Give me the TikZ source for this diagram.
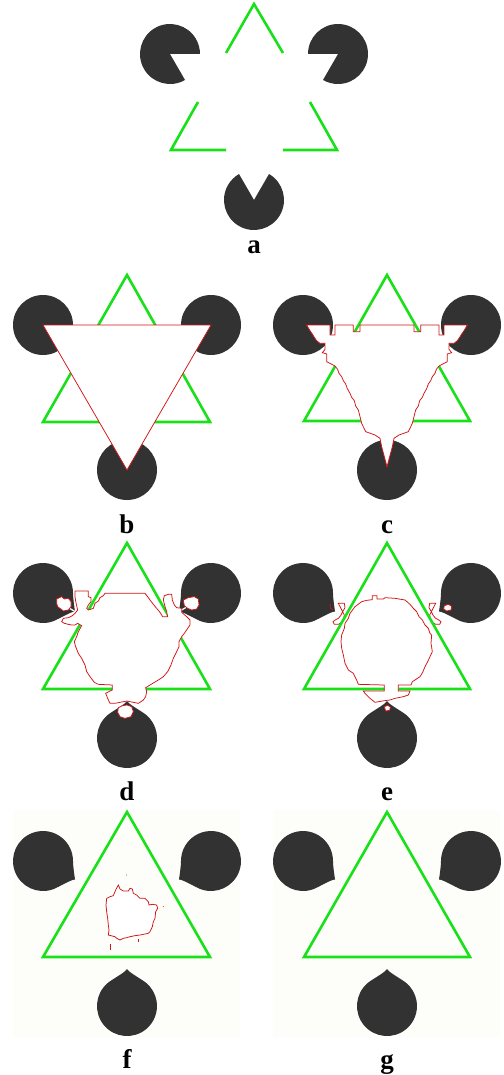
\documentclass[tikz,border=0pt]{standalone}
\usepackage{fontspec}
\setmainfont{Liberation Serif}
\definecolor{pac}{RGB}{50,50,50}
\definecolor{grn}{RGB}{25,225,25}
\definecolor{rd}{RGB}{210,20,20}
\definecolor{paper}{RGB}{253,253,249}
\tikzset{
  tri/.style={draw=grn,line width=2.6pt,line join=miter},
  seg/.style={draw=grn,line width=2.6pt,line join=miter},
  cont/.style={draw=rd,fill=white,line width=0.75pt},
  wire/.style={draw=rd,line width=0.75pt},
  slit/.style={draw=white,line width=1.3pt},
  lab/.style={font=\fontsize{27}{27}\selectfont\bfseries,anchor=base,inner sep=0pt},
}
% pacman with 60 degree mouth: x, y, mouth direction (visual angle)
\newcommand\kpac[3]{\begin{scope}[shift={(#1,#2)},rotate=#3]
  \fill[pac] (0,0) -- (30:30) arc[start angle=30,end angle=330,radius=30] -- cycle;\end{scope}}
% asymmetric drop: x, y, direction, mirror (1 or -1)
\newcommand\kdrop[4]{\begin{scope}[shift={(#1,#2)},rotate=#3,yscale=#4]
  \fill[pac] (30:30) .. controls (28.5,10.7) and (34.5,3) .. (37,0) .. controls (33.5,-2) and (27.3,-13.8) .. (-40:30)
    arc[start angle=-40,end angle=-330,radius=30] -- cycle;\end{scope}}
% symmetric drop: x, y, direction
\newcommand\ksdrop[3]{\begin{scope}[shift={(#1,#2)},rotate=#3]
  \fill[pac] (40:30) .. controls (26.9,14.7) and (33,2.5) .. (37,0) .. controls (33,-2.5) and (26.9,-14.7) .. (-40:30)
    arc[start angle=-40,end angle=-320,radius=30] -- cycle;\end{scope}}
\newcommand\kslit[3]{\begin{scope}[shift={(#1,#2)},rotate=#3]
  \draw[slit] (24,0) -- (40,0);\end{scope}}
\newcommand\kcirc[2]{\fill[pac] (#1,#2) circle[radius=30];}
\begin{document}
\begin{tikzpicture}[x=1pt,y=-1pt]
\useasboundingbox (0,0) rectangle (503,1075);
\fill[white] (0,0) rectangle (503,1075);

% ---------- panel a ----------
\kpac{170}{54}{-30}
\kpac{338}{54}{210}
\kpac{254}{200}{90}
\draw[seg] (226,53) -- (254,4) -- (283,53);
\draw[seg] (198,102) -- (171,150) -- (226,150);
\draw[seg] (310,102) -- (337,150) -- (283,150);
\node[lab] (la) at (254,253) {a};

% ---------- panel b ----------
\kcirc{43}{325}\kcirc{211}{325}\kcirc{127}{470}
\draw[tri] (127,275) -- (43,422) -- (210,422) -- cycle;
\draw[cont] (43,325) -- (211,325) -- (127,470) -- cycle;
\node[lab] (lb) at (127,533) {b};

% ---------- panel c ----------
\kcirc{303}{325}\kcirc{471}{325}\kcirc{387}{470}
\draw[tri] (387,275) -- (304,421) -- (470,421) -- cycle;
\begin{scope}[shift={(295,310)},scale=1/3]
\draw[cont] (276,45) -- (195,45) -- (195,65) -- (175,65) -- (175,45) -- (120,45) -- (120,75) -- (105,75) -- (105,45) -- (35,45) -- (45,62) -- (52,72) -- (58,82) -- (65,92) -- (75,100) -- (90,100) -- (90,118) -- (82,128) -- (95,132) -- (95,155) -- (105,160) -- (120,168) -- (128,178) -- (132,190) -- (140,200) -- (145,212) -- (152,222) -- (157,236) -- (165,250) -- (170,262) -- (178,272) -- (182,288) -- (190,300) -- (195,320) -- (200,340) -- (212,365) -- (240,375) -- (255,385) -- (260,410) -- (268,440) -- (276,470) -- (284,440) -- (292,410) -- (297,385) -- (312,375) -- (340,365) -- (352,340) -- (357,320) -- (362,300) -- (370,288) -- (374,272) -- (382,262) -- (387,250) -- (395,236) -- (400,222) -- (407,212) -- (412,200) -- (420,190) -- (424,178) -- (432,168) -- (447,160) -- (457,155) -- (457,132) -- (470,128) -- (462,118) -- (462,100) -- (477,100) -- (487,92) -- (494,82) -- (500,72) -- (507,62) -- (517,45) -- (447,45) -- (447,75) -- (432,75) -- (432,45) -- (377,45) -- (377,65) -- (357,65) -- (357,45) -- cycle;
\end{scope}
\node[lab] (lc) at (387,533) {c};

% ---------- panel d ----------
\kdrop{43}{593}{-30}{-1}
\kdrop{211}{593}{210}{1}
\ksdrop{127}{738}{90}
\kslit{43}{593}{-30}
\kslit{211}{593}{210}
\draw[tri] (127,543) -- (43,689) -- (210,689) -- cycle;
\begin{scope}[shift={(35,575)},scale=1/3]
\draw[cont] (120,48) -- (160,48) -- (160,65) -- (168,68) -- (168,80) -- (160,90) -- (155,100) -- (160,105) -- (175,100) -- (180,85) -- (190,78) -- (195,68) -- (205,62) -- (210,55) -- (330,55) -- (338,65) -- (345,75) -- (355,88) -- (365,100) -- (375,112) -- (383,125) -- (398,125) -- (395,110) -- (390,95) -- (385,75) -- (388,62) -- (400,58) -- (410,58) -- (412,75) -- (418,90) -- (425,98) -- (440,100) -- (440,112) -- (455,125) -- (465,135) -- (465,150) -- (458,160) -- (448,175) -- (440,185) -- (432,200) -- (432,215) -- (425,230) -- (415,250) -- (408,270) -- (398,290) -- (385,305) -- (370,315) -- (345,330) -- (332,338) -- (335,350) -- (332,365) -- (325,375) -- (310,385) -- (295,382) -- (276,378) -- (255,382) -- (240,385) -- (225,385) -- (218,370) -- (212,355) -- (225,348) -- (232,345) -- (232,330) -- (190,328) -- (178,322) -- (165,305) -- (155,290) -- (150,270) -- (140,250) -- (130,235) -- (122,215) -- (118,200) -- (125,185) -- (130,170) -- (140,152) -- (128,145) -- (120,150) -- (110,150) -- (100,148) -- (88,145) -- (80,140) -- (85,130) -- (100,128) -- (112,122) -- (120,115) -- (128,105) -- (125,92) -- (122,78) -- (120,65) -- cycle;
\draw[cont] (65,72) -- (80,65) -- (88,72) -- (100,70) -- (108,80) -- (108,95) -- (100,105) -- (85,108) -- (75,100) -- (68,95) -- (65,85) -- cycle;
\draw[cont] (445,75) -- (460,68) -- (478,65) -- (490,72) -- (492,90) -- (485,102) -- (470,105) -- (458,100) -- (448,92) -- cycle;
\draw[cont] (250,398) -- (262,392) -- (276,390) -- (290,395) -- (295,410) -- (288,425) -- (270,430) -- (255,425) -- (248,412) -- cycle;
\end{scope}
\node[lab] (ld) at (127,800) {d};

% ---------- panel e ----------
\kdrop{303}{593}{-30}{-1}
\kdrop{471}{593}{210}{1}
\ksdrop{387}{738}{90}
\begin{scope}[shift={(295,585)},scale=1/3]
\draw[cont] (130,55) -- (148,55) -- (150,68) -- (143,80) -- (137,92) -- (130,100) -- (122,104) -- (114,110) -- (118,118) -- (130,118) -- (140,112) -- (145,104) -- (148,90) -- cycle;
\draw[cont] (422,55) -- (404,55) -- (402,68) -- (409,80) -- (415,92) -- (422,100) -- (430,104) -- (438,110) -- (434,118) -- (422,118) -- (412,112) -- (407,104) -- (404,90) -- cycle;
\draw[wire] (106,56) -- (106,70) -- (114,74);
\draw[cont] (448,62) -- (460,58) -- (470,64) -- (468,75) -- (455,78) -- (446,72) -- cycle;
\draw[cont] (268,365) -- (278,361) -- (286,366) -- (284,376) -- (272,378) -- cycle;
\end{scope}
\draw[tri] (387,543) -- (304,689) -- (470,689) -- cycle;
\begin{scope}[shift={(295,585)},scale=1/3]
\draw[cont] (200,50) -- (215,46) -- (232,44) -- (232,32) -- (246,32) -- (246,42) -- (265,42) -- (270,38) -- (300,40) -- (330,45) -- (345,58) -- (355,70) -- (365,80) -- (372,95) -- (382,105) -- (390,120) -- (400,130) -- (405,145) -- (410,150) -- (408,175) -- (412,200) -- (405,215) -- (398,230) -- (390,245) -- (383,262) -- (375,275) -- (360,285) -- (352,290) -- (348,300) -- (310,300) -- (310,318) -- (345,318) -- (340,330) -- (325,335) -- (300,340) -- (285,345) -- (262,348) -- (240,352) -- (225,340) -- (210,325) -- (205,318) -- (268,318) -- (268,300) -- (190,298) -- (185,285) -- (175,265) -- (160,255) -- (150,235) -- (145,210) -- (140,190) -- (138,170) -- (140,150) -- (148,130) -- (150,115) -- (160,100) -- (165,85) -- (180,65) -- cycle;
\end{scope}
\node[lab] (le) at (387,800) {e};

% ---------- panel f ----------
\fill[paper] (13,810) rectangle (240,1037);
\kdrop{43}{861}{-30}{-1}
\kdrop{211}{861}{210}{1}
\ksdrop{127}{1006}{90}
\draw[tri] (127,812) -- (43,957) -- (210,957) -- cycle;
\begin{scope}[shift={(95,865)},scale=1/3]
\draw[cont] (35,100) -- (45,95) -- (55,92) -- (62,75) -- (70,60) -- (75,72) -- (85,78) -- (100,78) -- (105,70) -- (112,72) -- (115,85) -- (125,90) -- (130,95) -- (135,100) -- (150,100) -- (160,110) -- (162,120) -- (172,118) -- (185,120) -- (188,130) -- (182,140) -- (180,160) -- (175,170) -- (172,185) -- (165,200) -- (160,205) -- (145,208) -- (135,210) -- (120,212) -- (105,215) -- (95,218) -- (85,220) -- (75,225) -- (65,220) -- (60,215) -- (48,212) -- (40,210) -- (42,195) -- (40,180) -- (38,160) -- (35,140) -- (33,120) -- cycle;
\fill[rd] (95,30) circle[radius=1.5];
\fill[rd] (205,125) circle[radius=1.5];
\draw[wire] (46,238) -- (46,254);
\draw[wire] (130,222) -- (130,230);
\end{scope}
\node[lab] (lf) at (127,1068) {f};

% ---------- panel g ----------
\fill[paper] (273,810) rectangle (500,1037);
\kdrop{303}{861}{-30}{-1}
\kdrop{471}{861}{210}{1}
\ksdrop{387}{1006}{90}
\draw[tri] (387,812) -- (304,957) -- (470,957) -- cycle;
\node[lab] (lg) at (387,1068) {g};
\end{tikzpicture}
\end{document}
